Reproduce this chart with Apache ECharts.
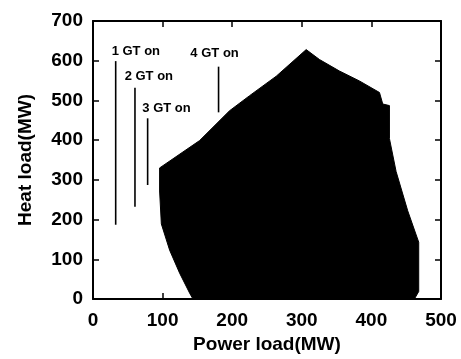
<!DOCTYPE html>
<html>
<head>
<meta charset="utf-8">
<script src="https://cdn.jsdelivr.net/npm/echarts@6/dist/echarts.min.js"></script>
<style>
  html, body { margin: 0; padding: 0; background: #fff; }
  #chart { width: 461px; height: 359px; }
</style>
</head>
<body>
<div id="chart"></div>
<script>
// Feasible operating region outline (power load MW, heat load MW), clockwise
const regionPower = [143.6, 138.8, 124.5, 110.1, 98.2, 95.7, 95.7, 153.2, 196.2, 225.0, 263.3, 306.3,
                     325.4, 354.1, 382.8, 411.6, 416.3, 425.9, 425.9, 435.5, 452.2, 468.0, 468.0, 461.8];
const regionHeat  = [0, 15, 65, 123, 189, 272, 330, 399, 474, 512, 561, 628,
                     603, 574, 549, 520, 491, 487, 404, 321, 222, 143, 19, 0];

// Gas turbine switch-on markers
const gtNames      = ['1 GT on', '2 GT on', '3 GT on', '4 GT on'];
const gtPower      = [32.6, 60.3, 78.5, 180.4];
const gtHeatLow    = [187, 232, 287, 470];
const gtHeatHigh   = [599, 532, 455, 585];
const gtLabelPower = [26.8, 45.5, 70.9, 139.9];
const gtLabelHeat  = [623, 560, 480, 618];

// Axis ticks
const xTicks = { min: 0, max: 500, step: 100 };
const yTicks = { min: 0, max: 700, step: 100 };

const FONT = 'Liberation Sans, Arial, sans-serif';
const chart = echarts.init(document.getElementById('chart'), null, { renderer: 'canvas' });

const frameAxis = {
  axisLine: { show: true, onZero: false, lineStyle: { color: '#000', width: 2 } },
  axisTick: { show: true, inside: true, length: 6, lineStyle: { color: '#000', width: 1.5 } },
  splitLine: { show: false }
};

const option = {
  backgroundColor: '#fff',
  animation: false,
  grid: { left: 93, right: 20, top: 21, bottom: 56, containLabel: false },
  xAxis: [
    Object.assign({
      type: 'value', min: xTicks.min, max: xTicks.max, interval: xTicks.step,
      name: 'Power load(MW)', nameLocation: 'middle', nameGap: 36,
      nameTextStyle: { fontFamily: FONT, fontWeight: 'bold', fontSize: 19, color: '#000' },
      axisLabel: { fontFamily: FONT, fontWeight: 'bold', fontSize: 19, color: '#000', margin: 12 }
    }, frameAxis),
    Object.assign({
      type: 'value', position: 'top', min: xTicks.min, max: xTicks.max, interval: xTicks.step,
      axisLabel: { show: false }
    }, frameAxis)
  ],
  yAxis: [
    Object.assign({
      type: 'value', min: yTicks.min, max: yTicks.max, interval: yTicks.step,
      name: 'Heat load(MW)', nameLocation: 'middle', nameGap: 58,
      nameTextStyle: { fontFamily: FONT, fontWeight: 'bold', fontSize: 19, color: '#000' },
      axisLabel: { fontFamily: FONT, fontWeight: 'bold', fontSize: 19, color: '#000', margin: 10 }
    }, frameAxis),
    Object.assign({
      type: 'value', position: 'right', min: yTicks.min, max: yTicks.max, interval: yTicks.step,
      axisLabel: { show: false }
    }, frameAxis)
  ],
  series: [
    {
      // filled operating region
      type: 'custom',
      xAxisIndex: 0, yAxisIndex: 0,
      data: [[0, 0]],
      silent: true,
      renderItem: function (params, api) {
        const pts = regionPower.map(function (p, i) { return api.coord([p, regionHeat[i]]); });
        return {
          type: 'polygon',
          shape: { points: pts },
          style: { fill: '#000', stroke: '#000', lineWidth: 1 }
        };
      }
    },
    {
      // GT vertical markers and their labels
      type: 'custom',
      xAxisIndex: 0, yAxisIndex: 0,
      data: gtNames.map(function (n, i) { return [gtPower[i], gtHeatLow[i], gtHeatHigh[i], i]; }),
      silent: true,
      renderItem: function (params, api) {
        const i = api.value(3);
        const lo = api.coord([api.value(0), api.value(1)]);
        const hi = api.coord([api.value(0), api.value(2)]);
        const lp = api.coord([gtLabelPower[i], gtLabelHeat[i]]);
        return {
          type: 'group',
          children: [
            {
              type: 'line',
              shape: { x1: lo[0], y1: lo[1], x2: hi[0], y2: hi[1] },
              style: { stroke: '#000', lineWidth: 1.6 }
            },
            {
              type: 'text',
              x: lp[0], y: lp[1],
              style: {
                text: gtNames[i], fill: '#000',
                font: 'bold 13px ' + FONT,
                textAlign: 'left', textVerticalAlign: 'middle'
              }
            }
          ]
        };
      }
    }
  ]
};

chart.setOption(option);
</script>
</body>
</html>
